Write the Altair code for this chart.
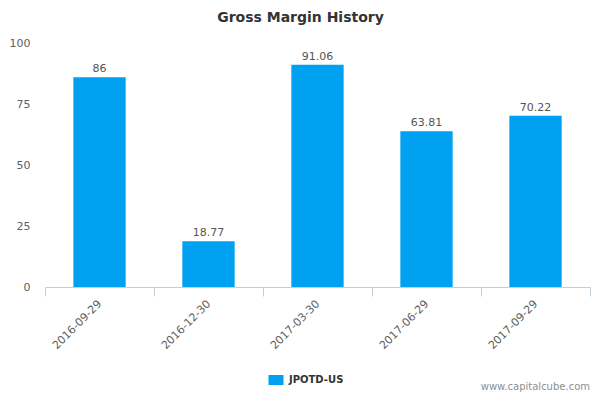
import altair as alt
import pandas as pd

dates = ["2016-09-29", "2016-12-30", "2017-03-30", "2017-06-29", "2017-09-29"]
values = [86, 18.77, 91.06, 63.81, 70.22]
labels = ["86", "18.77", "91.06", "63.81", "70.22"]
series = ["JPOTD-US"] * 5

df = pd.DataFrame({"date": dates, "value": values, "label": labels, "series": series})

FONT = "DejaVu Sans"
BAR = "#00a1f1"

x = alt.X("date:N", title=None, sort=dates,
          scale=alt.Scale(paddingInner=0, paddingOuter=0),
          axis=alt.Axis(labelAngle=-45, labelAlign="right", labelBaseline="middle",
                        labelFontSize=11, labelColor="#606060", labelFont=FONT,
                        labelPadding=6, domainColor="#c0d0e0", tickColor="#c0d0e0",
                        tickSize=9, tickBand="extent"))
y = alt.Y("value:Q", title=None, scale=alt.Scale(domain=[0, 100], nice=False),
          axis=alt.Axis(values=[0, 25, 50, 75, 100], grid=False, domain=False,
                        ticks=False, tickSize=0, labelPadding=15, labelFontSize=11,
                        labelColor="#606060", labelFont=FONT))

bars = alt.Chart(df).mark_bar(width={"band": 0.48}).encode(
    x=x, y=y,
    color=alt.Color("series:N", scale=alt.Scale(domain=["JPOTD-US"], range=[BAR]),
                    legend=alt.Legend(title=None, orient="none", legendX=221, legendY=327,
                                      symbolType="M-0.75,-0.5H0.75V0.5H-0.75Z",
                                      symbolSize=400, symbolStrokeWidth=0,
                                      labelOffset=3,
                                      labelFont=FONT, labelFontSize=10,
                                      labelFontWeight="bold", labelColor="#333333"))
)

text = alt.Chart(df).mark_text(baseline="bottom", dy=-3, fontSize=11, font=FONT,
                               color="#555555").encode(
    x=alt.X("date:N", sort=dates), y="value:Q", text="label:N")

wm = alt.Chart(pd.DataFrame({"t": ["www.capitalcube.com"]})).mark_text(
    align="right", baseline="alphabetic", fontSize=10, font=FONT, color="#909090"
).encode(x=alt.value(545), y=alt.value(347), text="t:N")

chart = alt.layer(bars, text, wm).properties(
    width=545, height=244,
    title=alt.Title("Gross Margin History", font=FONT, fontSize=14, fontWeight="bold",
                    color="#333333", anchor="middle", offset=12, dx=-17),
    autosize=alt.AutoSizeParams(type="none"),
    padding={"left": 37, "top": 35, "right": 2, "bottom": 105},
).configure_view(stroke=None)

chart.save("out.html", embed_options={"renderer": "svg", "actions": False})
